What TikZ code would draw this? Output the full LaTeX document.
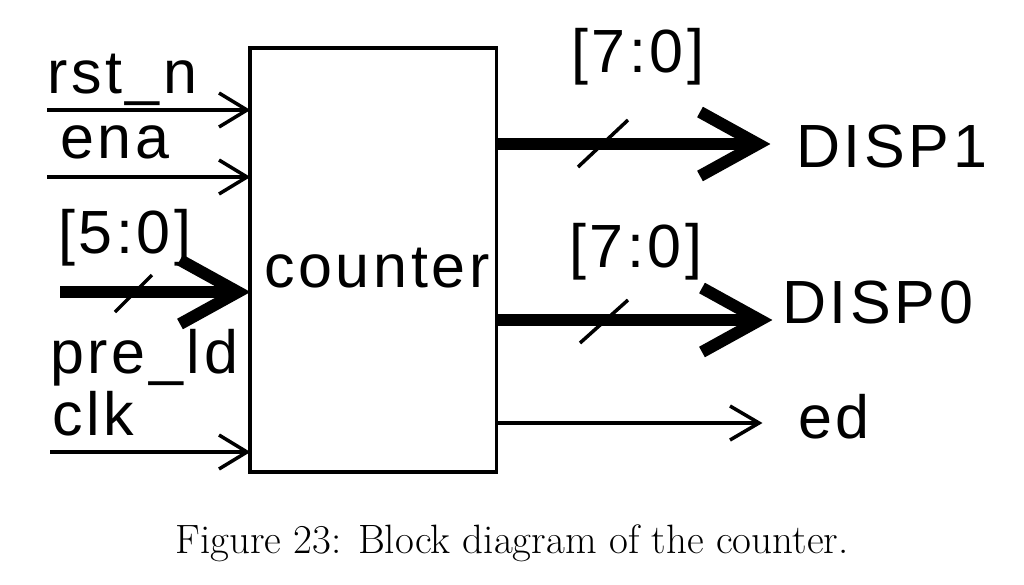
\documentclass[tikz,border=0pt]{standalone}
\usepackage{fontspec}
\newfontfamily\labfont{Liberation Sans}[LetterSpace=6]
\usetikzlibrary{calc}
\begin{document}
\begin{tikzpicture}[x=1pt,y=-1pt,
  lab/.style={font=\labfont\fontsize{61}{64}\selectfont, inner sep=0pt, anchor=base west},
  sig/.style={line width=3.5pt},
  bus/.style={line width=12pt},
  slashline/.style={line width=3.5pt},
  thinhead/.style={line width=3.5pt, miter limit=10},
  thickhead/.style={line width=12pt, miter limit=10}
]
\useasboundingbox (0,0) rectangle (1024,584);
% block
\node[draw, line width=3.5pt, minimum width=246.5pt, minimum height=424pt, inner sep=0pt, outer sep=0pt, anchor=north west] (cnt) at (250,48) {};
\node[lab] (cntlab) at (264,287) {counter};
% inputs
\coordinate (rstS) at (47,110);
\coordinate (enaS) at (47,177);
\coordinate (preS) at (60,292);
\coordinate (clkS) at (50,452);
\coordinate (rstE) at (rstS -| cnt.west);
\coordinate (enaE) at (enaS -| cnt.west);
\coordinate (preE) at (preS -| cnt.west);
\coordinate (clkE) at (clkS -| cnt.west);
\draw[sig] (rstS) -- ($(rstE)+(-3,0)$);
\draw[sig] (enaS) -- ($(enaE)+(-3,0)$);
\draw[bus] (preS) -- ($(preE)+(-14,0)$);
\draw[sig] (clkS) -- ($(clkE)+(-3,0)$);
\draw[thinhead] ($(rstE)+(-31,-17)$) -- ($(rstE)+(-3,0)$) -- ($(rstE)+(-31,17)$);
\draw[thinhead] ($(enaE)+(-31,-17)$) -- ($(enaE)+(-3,0)$) -- ($(enaE)+(-31,17)$);
\draw[thickhead] ($(preE)+(-70,-32)$) -- ($(preE)+(-12,0)$) -- ($(preE)+(-70,32)$);
\draw[thinhead] ($(clkE)+(-31,-17)$) -- ($(clkE)+(-3,0)$) -- ($(clkE)+(-31,17)$);
\draw[slashline] (115,312) -- (152,275);
\node[lab] (rstlab) at (47,93) {rst\_n};
\node[lab] (enalab) at (60,158) {ena};
\node[lab] (prebus) at (58,253) {[5:0]};
\node[lab] (prelab) at (50,373) {pre\_ld};
\node[lab] (clklab) at (52,435) {clk};
% outputs
\coordinate (d1E) at (770,144);
\coordinate (d0E) at (772,320);
\coordinate (edE) at (762,423);
\coordinate (d1S) at (d1E -| cnt.east);
\coordinate (d0S) at (d0E -| cnt.east);
\coordinate (edS) at (edE -| cnt.east);
\draw[bus] (d1S) -- ($(d1E)+(-14,0)$);
\draw[bus] (d0S) -- ($(d0E)+(-14,0)$);
\draw[sig] (edS) -- ($(edE)+(-3,0)$);
\draw[thickhead] ($(d1E)+(-70,-32)$) -- ($(d1E)+(-12,0)$) -- ($(d1E)+(-70,32)$);
\draw[thickhead] ($(d0E)+(-70,-32)$) -- ($(d0E)+(-12,0)$) -- ($(d0E)+(-70,32)$);
\draw[thinhead] ($(edE)+(-32,-17)$) -- ($(edE)+(-3,0)$) -- ($(edE)+(-32,17)$);
\draw[slashline] (578,167) -- (628,120);
\draw[slashline] (580,343) -- (628,300);
\node[lab] (d1bus) at (571,72) {[7:0]};
\node[lab] (d0bus) at (569,267) {[7:0]};
\node[lab] (d1lab) at (796,167) {DISP1};
\node[lab] (d0lab) at (782,323) {DISP0};
\node[lab] (edlab) at (798,438) {ed};
% caption
\node[font=\fontsize{41}{44}\selectfont, inner sep=0pt, anchor=base] (cap) at (512,553) {Figure 23: Block diagram of the counter.};
\end{tikzpicture}
\end{document}
